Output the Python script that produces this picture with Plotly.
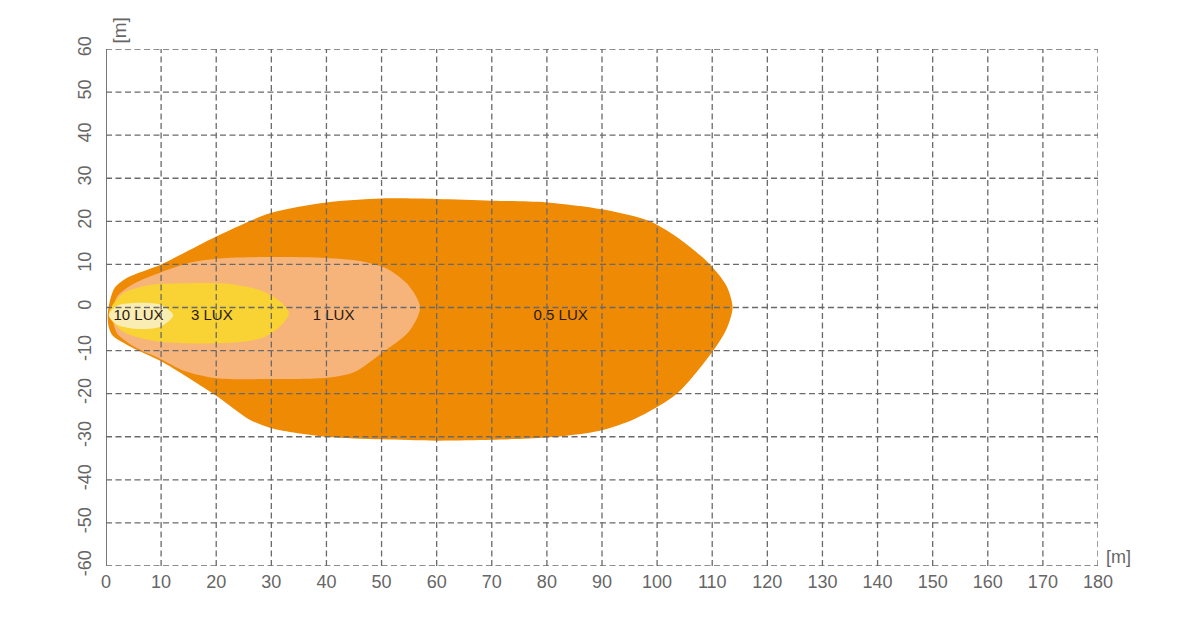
import plotly.graph_objects as go

# isolux contours, distance [m] vs lateral [m]
lux05_x = [0.3, 0.7, 1.6, 4, 10, 20, 30, 40, 50, 60, 70, 80, 90, 98.7, 104.5, 109.6, 112.6, 113.7, 112.6, 110.2, 103.6, 96, 89.6, 80, 70, 60, 50, 40, 30, 26, 20, 10, 4, 1.2, 0.5, 0.3]
lux05_y = [-2, 1.5, 4.6, 7, 10, 16.5, 22, 24.4, 25.3, 25.2, 24.8, 24.4, 22.8, 20, 15.5, 10, 5, 0, -5, -10, -20, -25.8, -28.6, -30.2, -30.7, -30.9, -30.6, -30, -28, -26, -20.5, -12.5, -8.8, -6.5, -4.5, -2]

lux1_x = [1.2, 2, 5, 10, 16, 22, 30, 40, 46, 51, 55, 57, 55, 50, 45, 40, 30, 20, 14, 10, 5, 2, 1.2]
lux1_y = [-2, 2.5, 5.5, 8.2, 10.6, 11.5, 11.7, 11.5, 10.8, 9, 5, 0, -5.5, -10.6, -15, -16.3, -16.6, -16.4, -14.6, -12, -9, -6, -2]

lux3_x = [0.5, 3, 8, 14, 22, 28, 31.5, 33.2, 31.5, 28, 22, 14, 8, 3, 0.5]
lux3_y = [-1.5, 3.2, 5.2, 5.6, 5.5, 4, 1.5, -1.3, -4.5, -7.2, -8.2, -8.3, -7.6, -5.5, -1.5]

lux10_x = [0.5, 2, 6, 10, 12.2, 10, 6, 2, 0.5]
lux10_y = [-1.8, 0.4, 1.1, 0.6, -1.8, -4.4, -5, -4, -1.8]

labels = ["10 LUX", "3 LUX", "1 LUX", "0.5 LUX"]
label_x = [5.9, 19.2, 41.3, 82.5]
label_y = [-2, -2, -2, -2]

x_ticks = list(range(0, 181, 10))
y_ticks = list(range(-60, 61, 10))
y_tick_labels = [str(v) for v in y_ticks]  # plain hyphen as in the original

fig = go.Figure()

zones = [
    (lux05_x, lux05_y, "#EF8A05"),
    (lux1_x, lux1_y, "#F6B47A"),
    (lux3_x, lux3_y, "#F9D233"),
    (lux10_x, lux10_y, "#FAEDB4"),
]
for xs, ys, col in zones:
    fig.add_trace(go.Scatter(
        x=xs, y=ys, mode="lines", fill="toself", fillcolor=col,
        line=dict(color=col, width=0, shape="spline", smoothing=0.8),
        hoverinfo="skip", showlegend=False,
    ))

fig.add_trace(go.Scatter(
    x=label_x, y=label_y, mode="text", text=labels,
    textfont=dict(family="Liberation Sans, Arial", size=15, color="#2a1a10"),
    hoverinfo="skip", showlegend=False,
))

# dashed grid drawn on top of the fills
grid = dict(color="#6a6a6a", width=1.3, dash="6px,3.5px")
for v in x_ticks[1:]:
    fig.add_shape(type="line", x0=v, x1=v, y0=-60, y1=60, layer="above", line=grid)
for v in y_ticks:
    fig.add_shape(type="line", x0=0, x1=180, y0=v, y1=v, layer="above", line=grid)
fig.add_shape(type="line", x0=0, x1=0, y0=-60, y1=60, layer="above",
              line=dict(color="#6a6a6a", width=1.8))

fig.add_annotation(text="[m]", x=0, y=60, xref="x", yref="y", xanchor="left", yanchor="bottom",
                   textangle=-90, showarrow=False, xshift=0, yshift=3,
                   font=dict(family="Liberation Sans, Arial", size=19, color="#666666"))
fig.add_annotation(text="[m]", x=180, y=-60, xref="x", yref="y", xanchor="left", yanchor="bottom",
                   showarrow=False, xshift=6, yshift=-3,
                   font=dict(family="Liberation Sans, Arial", size=18, color="#666666"))

tickfont = dict(family="Liberation Sans, Arial", size=18, color="#666666")
fig.update_xaxes(range=[0, 180], tickvals=x_ticks, showgrid=False, zeroline=False,
                 showline=False, tickfont=tickfont, ticklabelstandoff=3, fixedrange=True)
fig.update_yaxes(range=[-60, 60], tickvals=y_ticks, ticktext=y_tick_labels,
                 showgrid=False, zeroline=False, showline=False, tickfont=tickfont,
                 tickangle=-90, ticklabelstandoff=10, fixedrange=True)

# the page body adds 8px, so margins are offset to keep the plot area in place
fig.update_layout(
    width=1200, height=630,
    margin=dict(l=98, r=110, t=41, b=72),
    plot_bgcolor="white", paper_bgcolor="white",
)

fig.write_html("out.html")
